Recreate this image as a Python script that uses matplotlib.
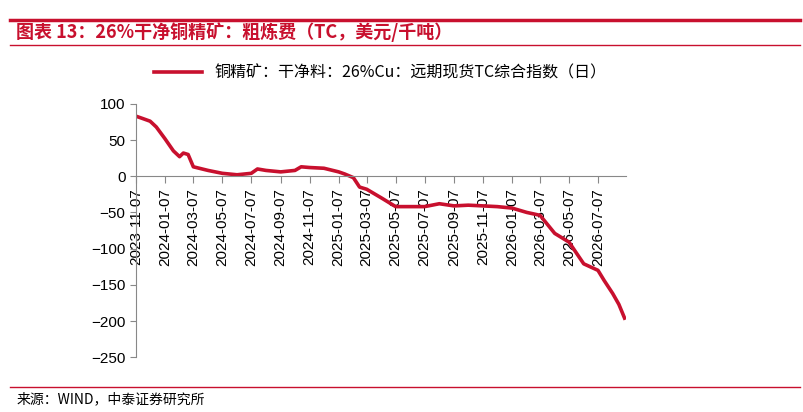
import matplotlib
matplotlib.use("Agg")
import matplotlib.pyplot as plt
import matplotlib.dates as mdates
import pandas as pd

plt.rcParams['font.family'] = ['Liberation Sans', 'Noto Sans CJK SC', 'DejaVu Sans']

dates = ["2023-11-07","2023-11-20","2023-12-07","2023-12-20","2024-01-07","2024-01-25","2024-02-07","2024-02-15","2024-02-25","2024-03-07",
         "2024-04-07","2024-05-07","2024-06-07","2024-07-07","2024-07-20","2024-08-07","2024-09-07","2024-10-07","2024-10-20","2024-11-07",
         "2024-12-07","2025-01-07","2025-01-20","2025-02-07","2025-02-20","2025-03-07","2025-04-07","2025-05-07","2025-06-07","2025-07-07",
         "2025-08-07","2025-09-07","2025-10-07","2025-11-07","2025-12-07","2026-01-07","2026-02-07","2026-03-07","2026-04-07","2026-05-07",
         "2026-06-07","2026-07-07","2026-07-20","2026-08-07","2026-08-20","2026-09-01"]
values = [83, 80, 76, 68, 52, 35, 27, 32, 30, 13,
          8, 4, 2, 4, 10, 8, 6, 8, 13, 12,
          11, 6, 3, -2, -15, -18, -30, -42, -42, -42,
          -38, -41, -40, -41, -42, -44, -50, -54, -79, -91,
          -121, -130, -144, -162, -177, -196]
series_name = "铜精矿：干净料：26%Cu：远期现货TC综合指数（日）"
xticks = pd.date_range("2023-11-01", periods=17, freq="2MS") + pd.Timedelta(days=6)
red = "#C8102E"

fig = plt.figure(figsize=(8.04, 4.12), dpi=100)
ax = fig.add_axes([0.169, 0.133, 0.609, 0.615])
d = pd.to_datetime(dates)
ax.plot(d, values, color=red, lw=2.6, label=series_name, drawstyle='default')
ax.set_ylim(-250, 100)
ax.set_yticks(range(-250, 101, 50))
ax.set_xlim(pd.Timestamp("2023-11-07"), pd.Timestamp("2026-09-03"))
ax.set_xticks(xticks)
ax.xaxis.set_major_formatter(mdates.DateFormatter("%Y-%m-%d"))
ax.spines['bottom'].set_position(('data', 0))
for s in ['top', 'right']:
    ax.spines[s].set_visible(False)
ax.spines['bottom'].set_color('#888888')
ax.spines['left'].set_color('#888888')
ax.tick_params(axis='x', rotation=90, labelsize=11, color='#888888', length=5, direction='out')
ax.tick_params(axis='y', labelsize=11, color='#888888', length=4)
ax.legend(loc='lower center', bbox_to_anchor=(0.5, 1.03), frameon=False, fontsize=11.5, handlelength=3,
          prop={'family': ['Noto Sans CJK SC', 'DejaVu Sans'], 'size': 11.5})

fig.add_artist(plt.Line2D([0.012, 0.995], [0.952, 0.952], color=red, lw=2.5))
fig.add_artist(plt.Line2D([0.012, 0.995], [0.89, 0.89], color=red, lw=1))
fig.text(0.02, 0.921, "图表 13：26%干净铜精矿：粗炼费（TC，美元/千吨）", color=red, fontsize=13,
         fontweight='bold', style='italic', va='center', family=['Noto Sans CJK SC', 'DejaVu Sans'])
fig.add_artist(plt.Line2D([0.012, 0.995], [0.06, 0.06], color=red, lw=1))
fig.text(0.02, 0.03, "来源：WIND，中泰证券研究所", fontsize=10, va='center', family=['Noto Sans CJK SC', 'DejaVu Sans'])
fig.savefig("out.png", dpi=100)
